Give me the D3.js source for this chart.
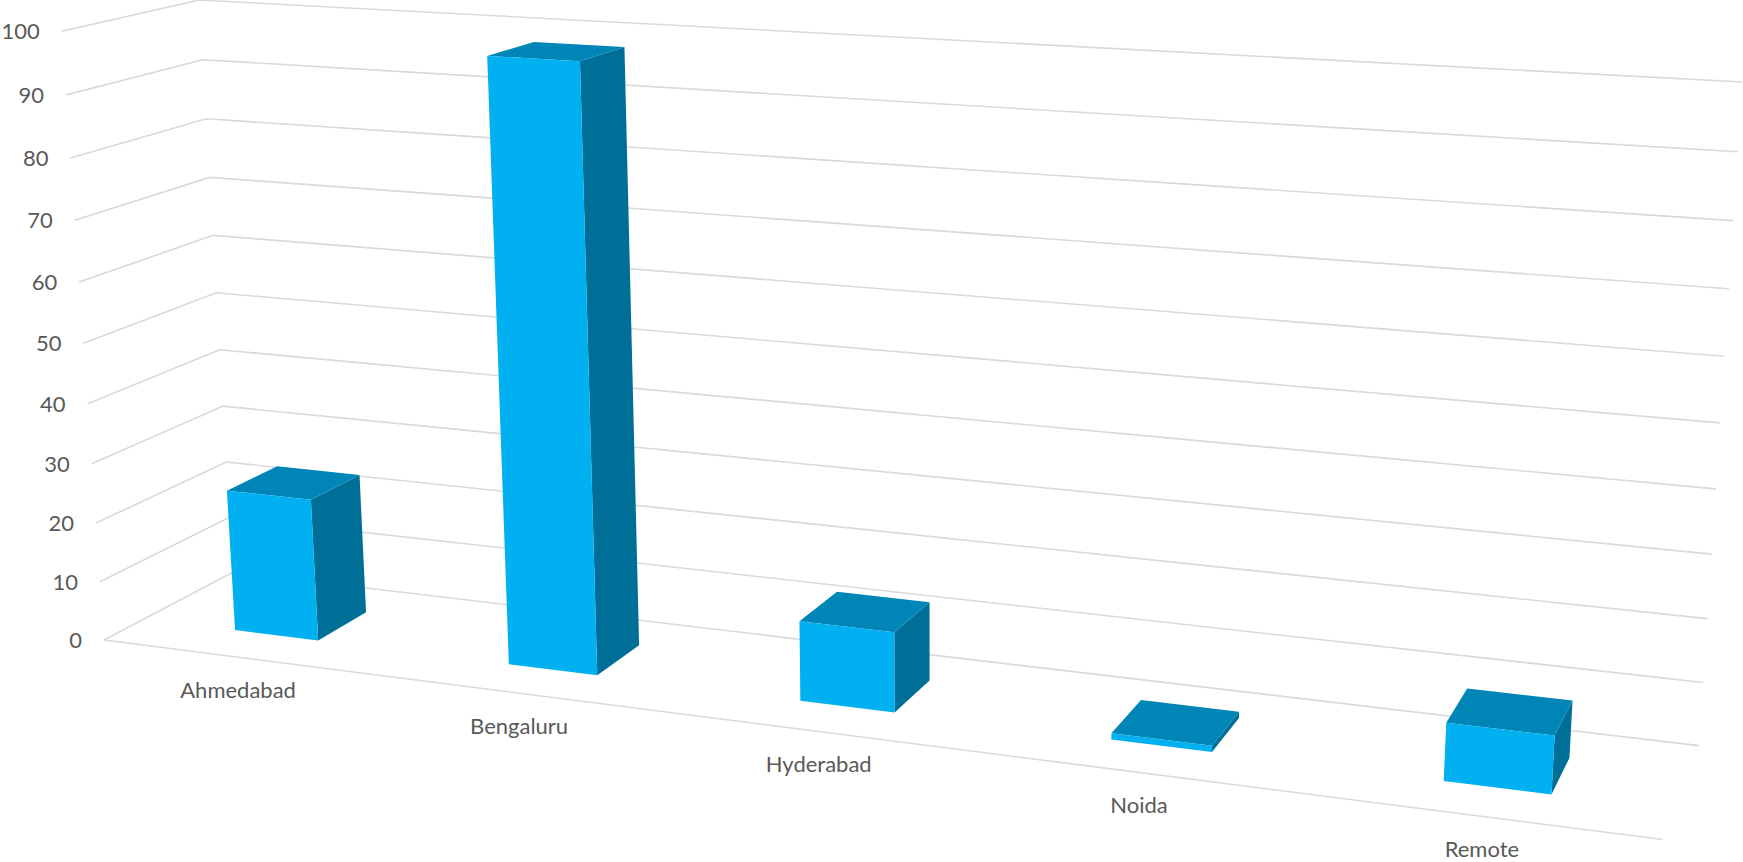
<!DOCTYPE html>
<html>
<head>
<meta charset="utf-8">
<script src="https://cdn.jsdelivr.net/npm/d3@7"></script>
<style>
  html, body { margin: 0; padding: 0; background: #ffffff; }
  svg { display: block; }
  text { font-family: Lato, "Open Sans", sans-serif; fill: #595959; }
</style>
</head>
<body>
<svg id="chart" width="1743" height="862"></svg>
<script>
// ---- data ----
const categories = ["Ahmedabad", "Bengaluru", "Hyderabad", "Noida", "Remote"];
const values = [24, 98, 13, 1, 9];
const yTicks = [0, 10, 20, 30, 40, 50, 60, 70, 80, 90, 100];
const yDomain = [0, 100];

// ---- layout: camera calibration of the plot box (world unit cube -> screen) ----
// world: x across categories [0,1], y value [0,1], z depth (0 front, 1 back wall)
const frameAnchors = [
  { w: [0, 0, 1], p: [234, 574] },
  { w: [0, 1, 1], p: [198, 0] },
  { w: [1, 1, 1], p: [1743, 82] },
  { w: [1, 0, 1], p: [1699, 745] },
  { w: [0, 0, 0], p: [103, 639] },
  { w: [0, 1, 0], p: [63, 32] },
  { w: [1, 0, 0], p: [1663, 840] },
  { w: [0, 0.5, 1], p: [216.5, 291.5] },
  { w: [1, 0.5, 1], p: [1719, 423] },
  { w: [0, 0.5, 0], p: [83, 343] }
];
const barDepth = [0.3, 0.7];
const colors = { front: "#00b0f0", top: "#0086b6", side: "#006f98", grid: "#d9d9d9" };

// ---- solve projective camera (DLT, least squares) ----
function solveLinear(A, b) {
  const n = b.length;
  const M = A.map((r, i) => r.concat([b[i]]));
  for (let c = 0; c < n; c++) {
    let piv = c;
    for (let r = c + 1; r < n; r++) if (Math.abs(M[r][c]) > Math.abs(M[piv][c])) piv = r;
    [M[c], M[piv]] = [M[piv], M[c]];
    for (let r = 0; r < n; r++) {
      if (r === c) continue;
      const f = M[r][c] / M[c][c];
      for (let k = c; k <= n; k++) M[r][k] -= f * M[c][k];
    }
  }
  return M.map((r, i) => r[n] / r[i]);
}
const S = 1000;
const rows = [], rhs = [];
frameAnchors.forEach(a => {
  const [X, Y, Z] = a.w; const u = a.p[0] / S, v = a.p[1] / S;
  rows.push([X, Y, Z, 1, 0, 0, 0, 0, -u * X, -u * Y, -u * Z]); rhs.push(u);
  rows.push([0, 0, 0, 0, X, Y, Z, 1, -v * X, -v * Y, -v * Z]); rhs.push(v);
});
const N = [], r = [];
for (let i = 0; i < 11; i++) {
  N.push([]); r.push(rows.reduce((s, row, k) => s + row[i] * rhs[k], 0));
  for (let j = 0; j < 11; j++) N[i].push(rows.reduce((s, row) => s + row[i] * row[j], 0));
}
const P = solveLinear(N, r);
function proj([X, Y, Z]) {
  const w = P[8] * X + P[9] * Y + P[10] * Z + 1;
  return [S * (P[0] * X + P[1] * Y + P[2] * Z + P[3]) / w,
          S * (P[4] * X + P[5] * Y + P[6] * Z + P[7]) / w];
}

// ---- scales ----
const x = d3.scaleBand().domain(categories).range([0, 1]).paddingInner(0.69).paddingOuter(0.345);
const y = d3.scaleLinear().domain(yDomain).range([0, 1]);
const z = d3.scaleLinear().domain([0, 1]).range(barDepth);

const svg = d3.select("#chart");
svg.append("rect").attr("width", 1743).attr("height", 862).attr("fill", "#ffffff");
const poly = d3.line().x(d => d[0]).y(d => d[1]);
const quad = pts => poly(pts.map(proj)) + "Z";

// gridlines on back wall and left wall
const grid = svg.append("g").attr("fill", "none").attr("stroke", colors.grid).attr("stroke-width", 1.6);
yTicks.forEach(t => {
  const Y = y(t);
  grid.append("path").attr("d", poly([[0, Y, 0], [0, Y, 1], [1, Y, 1]].map(proj)));
});
// category axis line (floor front edge)
grid.append("path").attr("d", poly([[0, 0, 0], [1, 0, 0]].map(proj)));

// tick labels
svg.append("g").selectAll("text").data(yTicks).join("text")
  .attr("x", d => proj([0, y(d), 0])[0] - 22)
  .attr("y", d => proj([0, y(d), 0])[1])
  .attr("dy", "0.36em")
  .attr("text-anchor", "end")
  .attr("font-size", 22)
  .text(d => d);

// bars
const bars = svg.append("g").selectAll("g").data(categories.map((c, i) => ({ c, v: values[i] }))).join("g");
bars.each(function (d) {
  const g = d3.select(this);
  const x0 = x(d.c), x1 = x0 + x.bandwidth(), Y = y(d.v), z0 = z(0), z1 = z(1);
  g.append("path").attr("fill", colors.side)
    .attr("d", quad([[x1, 0, z0], [x1, 0, z1], [x1, Y, z1], [x1, Y, z0]]));
  g.append("path").attr("fill", colors.top)
    .attr("d", quad([[x0, Y, z0], [x1, Y, z0], [x1, Y, z1], [x0, Y, z1]]));
  g.append("path").attr("fill", colors.front)
    .attr("d", quad([[x0, 0, z0], [x1, 0, z0], [x1, Y, z0], [x0, Y, z0]]));
});

// category labels
svg.append("g").selectAll("text").data(categories).join("text")
  .attr("x", d => proj([x(d) + x.bandwidth() / 2, 0, 0])[0])
  .attr("y", d => proj([x(d) + x.bandwidth() / 2, 0, 0])[1] + 41)
  .attr("text-anchor", "middle")
  .attr("font-size", 22)
  .text(d => d);
</script>
</body>
</html>
